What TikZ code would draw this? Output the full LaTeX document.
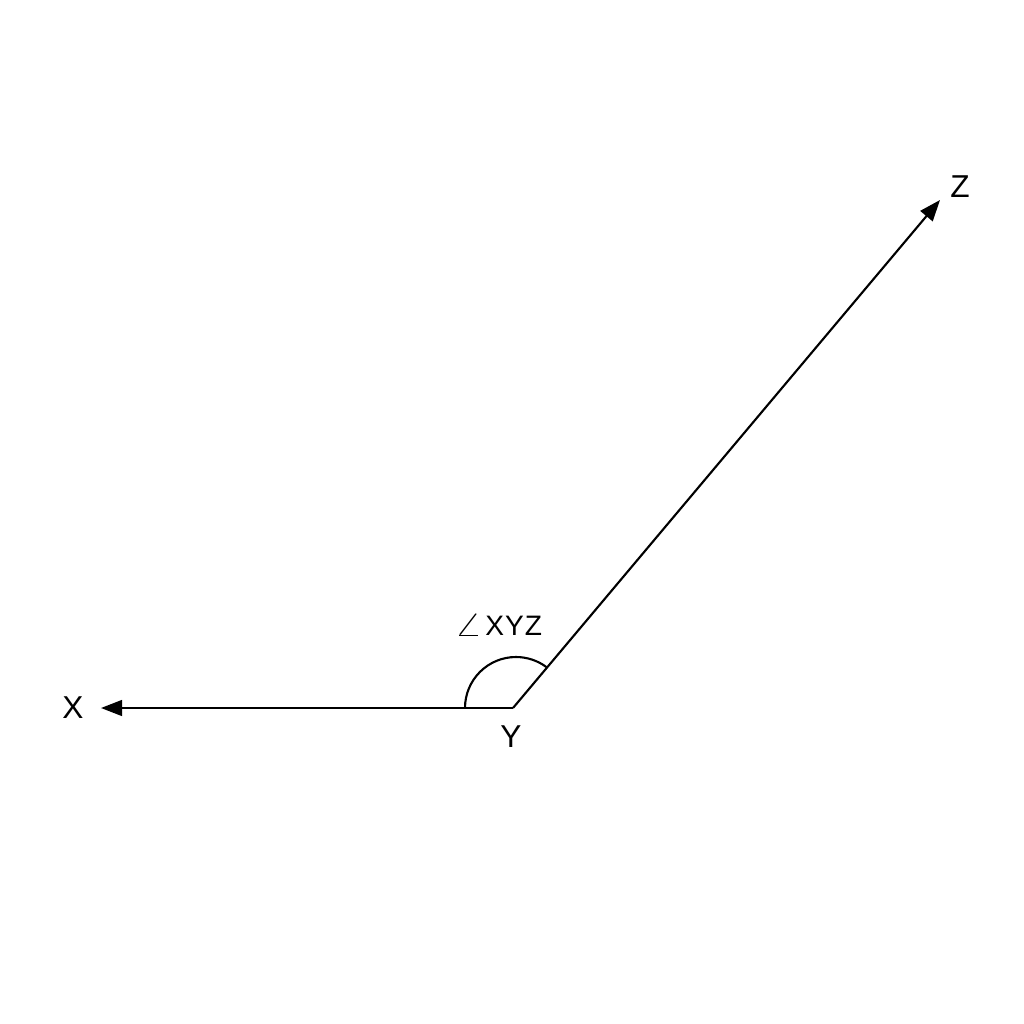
\documentclass[tikz,border=0pt]{standalone}
\usepackage{fontspec}
\usepackage{graphicx}
\setmainfont{Liberation Sans}
\usetikzlibrary{arrows.meta}
\begin{document}
\begin{tikzpicture}[x=0.01cm,y=-0.01cm,
  ray/.style={line width=0.6pt,-{Triangle[length=6pt,width=4.5pt]}},
  lbl/.style={font=\fontsize{9}{10}\selectfont,inner sep=0pt},
  anglbl/.style={font=\fontsize{8}{9}\selectfont,inner sep=0pt}]
\useasboundingbox (0,0) rectangle (1024,1024);
\coordinate (Y) at (513,708);
\coordinate (Xt) at (101,708);
\coordinate (Zt) at (940,200);
\node[lbl] (X) at (73,708) {X};
\node[lbl] (Ylab) at (511,737) {Y};
\node[lbl] (Z) at (960,187) {Z};
\node[anglbl] (ang) at (498,625) {\scalebox{1.4}[1.1]{$\angle$}\kern0.6pt X\kern0.3pt Y\kern0.3pt Z};
\draw[ray] (Y) -- (Xt);
\draw[ray] (Y) -- (Zt);
\draw[line width=0.6pt] (465,708) arc[start angle=180,end angle=307,radius=51];
\end{tikzpicture}
\end{document}
